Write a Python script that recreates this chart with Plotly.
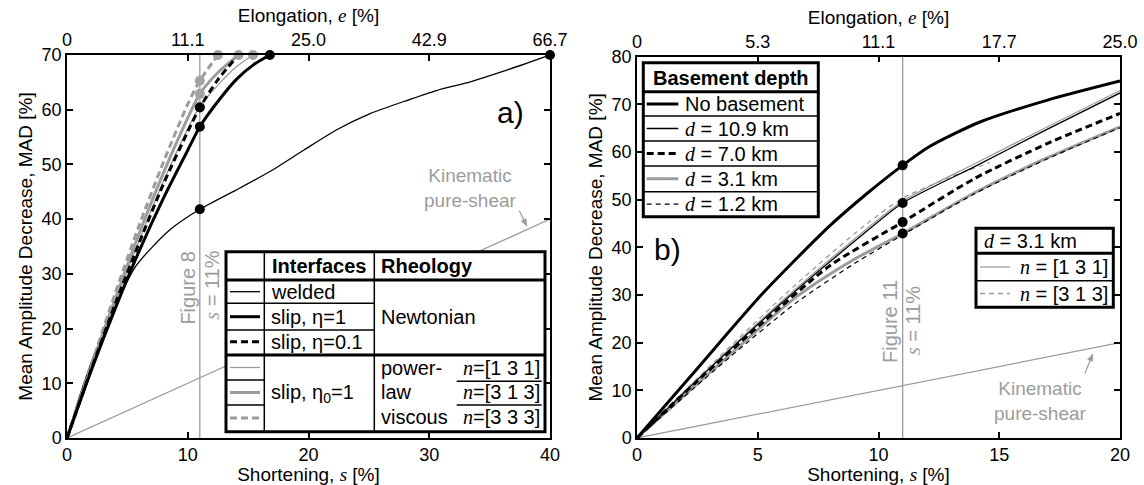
import math
import plotly.graph_objects as go

# ---------------- data: panel a) ----------------
s_kin_a = [0, 40]
mad_kin_a = [0, 40]

s_welded = [0, 1, 2.2, 3.6, 5.7, 8.5, 11, 14, 16.8, 19.6, 22.3, 25.1, 27.9, 30.6, 33.4, 36.1, 40]
mad_welded = [0, 7.3, 14.9, 22.2, 31.4, 38, 41.8, 45.3, 48.7, 52.6, 56.3, 59.3, 61.5, 63.5, 65.1, 67.0, 70]

s_slip1 = [0, 2, 4, 6, 8, 10, 11, 12.67, 14.05, 15.43, 16.8]
mad_slip1 = [0, 12.3, 23.7, 34.3, 43.9, 52.6, 56.9, 62.0, 65.6, 68.2, 70]

s_slip01 = [0, 2, 4, 6, 8, 10, 11, 12.5, 14.2]
mad_slip01 = [0, 12.5, 24.5, 35.8, 46.5, 56, 60.4, 65.5, 70]

s_pl131 = [0, 2, 4, 6, 8, 10, 11, 12.5, 14, 15.4]
mad_pl131 = [0, 12.6, 24.8, 36.2, 47, 56.5, 60.6, 64.5, 67.8, 70]

s_pl313 = [0, 2, 4, 6, 8, 10, 11, 12.5, 14.2]
mad_pl313 = [0, 13, 25.5, 37.5, 48.5, 58.5, 62.9, 66.8, 70]

s_pl333 = [0, 2, 4, 6, 8, 10, 11, 12.5]
mad_pl333 = [0, 13.3, 26.5, 39, 50.5, 61, 65.3, 70]

ticks_a = [0, 10, 20, 30, 40]
elong_a = ["0", "11.1", "25.0", "42.9", "66.7"]

# ---------------- data: panel b) ----------------
s_kin_b = [0, 20]
mad_kin_b = [0, 20]

s_nob = [0, 2.5, 5.2, 8, 9.5, 11, 12.1, 14.2, 17, 20]
mad_nob = [0, 14.6, 30.3, 44.6, 51.2, 57.2, 61.1, 66.3, 70.9, 74.9]

s_d109 = [0, 3.2, 6.6, 9.4, 11, 14, 17, 20]
mad_d109 = [0, 15.5, 31, 42.9, 49.3, 57, 64.8, 72.4]

s_d70 = [0, 2.5, 5.2, 8, 11, 14, 17, 20]
mad_d70 = [0, 12.0, 24.2, 36.2, 45.3, 54.5, 61.8, 68.1]

s_d31 = [0, 3.85, 6.6, 9, 11, 14, 17, 20]
mad_d31 = [0, 17.5, 29.6, 37.5, 42.9, 51.5, 58.8, 65.3]

s_d12 = [0, 3.85, 6.6, 9, 11, 14, 17, 20]
mad_d12 = [0, 17.0, 28.4, 36.6, 42.6, 51.3, 58.6, 65.1]

s_n131 = [0, 3.2, 6.6, 9.4, 11, 14, 17, 20]
mad_n131 = [0, 15.7, 31.4, 43.4, 49.7, 57.6, 65.3, 72.9]

s_n313 = [0, 3.2, 6.6, 9.4, 11, 12.8, 14.6]
mad_n313 = [0, 16, 32.3, 44.5, 50.3, 54.4, 57.8]

ticks_b = [0, 5, 10, 15, 20]
elong_b = ["0", "5.3", "11.1", "17.7", "25.0"]

s_fig = 11  # marked shortening

# ---------------- styling ----------------
FONT = "Liberation Sans, Arial, sans-serif"
SERIF = "Liberation Serif, Times New Roman, serif"
GRAY = "#9c9c9c"
W, H = 1144, 485
ML, MR, MT, MB = 67, 24, 55, 47
TS = 20  # table text size


def it(ch):
    return f"<span style='font-family:{SERIF}'><i>{ch}</i></span>"


def P(x, y):
    return (x - ML) / (W - ML - MR), (H - MB - y) / (H - MT - MB)


fig = go.Figure()


def curve(xs, ys, xa, ya, color, width, dash="solid"):
    fig.add_trace(go.Scatter(x=xs, y=ys, xaxis=xa, yaxis=ya, mode="lines",
                             line=dict(color=color, width=width, dash=dash, shape="spline", smoothing=0.7),
                             hoverinfo="skip", showlegend=False))


def dots(xs, ys, xa, ya, color):
    fig.add_trace(go.Scatter(x=xs, y=ys, xaxis=xa, yaxis=ya, mode="markers",
                             marker=dict(color=color, size=10), cliponaxis=False,
                             hoverinfo="skip", showlegend=False))


def at(sx, my, v):
    return my[sx.index(v)]


DASH = "7px,4px"
TDASH = "5px,4px"

# panel a
curve(s_kin_a, mad_kin_a, "x", "y", GRAY, 1.3)
curve([s_fig, s_fig], [0, 70], "x", "y", GRAY, 1.3)
curve(s_welded, mad_welded, "x", "y", "black", 1.3)
curve(s_pl131, mad_pl131, "x", "y", GRAY, 1.3)
curve(s_pl313, mad_pl313, "x", "y", GRAY, 3)
curve(s_pl333, mad_pl333, "x", "y", GRAY, 3, DASH)
curve(s_slip01, mad_slip01, "x", "y", "black", 3, DASH)
curve(s_slip1, mad_slip1, "x", "y", "black", 3)
gray_a = [(s_pl131, mad_pl131), (s_pl313, mad_pl313), (s_pl333, mad_pl333)]
dots([s_fig for _ in gray_a] + [sx[-1] for sx, _ in gray_a],
     [at(sx, my, s_fig) for sx, my in gray_a] + [my[-1] for _, my in gray_a], "x", "y", "#a3a3a3")
black_a = [(s_welded, mad_welded), (s_slip1, mad_slip1), (s_slip01, mad_slip01)]
dots([s_fig for _ in black_a] + [s_welded[-1], s_slip1[-1]],
     [at(sx, my, s_fig) for sx, my in black_a] + [mad_welded[-1], mad_slip1[-1]], "x", "y", "black")
fig.add_trace(go.Scatter(x=[0], y=[0], xaxis="x3", yaxis="y", mode="markers",
                         marker=dict(opacity=0), hoverinfo="skip", showlegend=False))

# panel b
curve(s_kin_b, mad_kin_b, "x2", "y2", GRAY, 1.3)
curve([s_fig, s_fig], [0, 80], "x2", "y2", GRAY, 1.3)
curve(s_n313, mad_n313, "x2", "y2", GRAY, 1.3, TDASH)
curve(s_n131, mad_n131, "x2", "y2", GRAY, 1.3)
curve(s_d31, mad_d31, "x2", "y2", GRAY, 3)
curve(s_d12, mad_d12, "x2", "y2", "black", 1.2, TDASH)
curve(s_d109, mad_d109, "x2", "y2", "black", 1.3)
curve(s_d70, mad_d70, "x2", "y2", "black", 3, DASH)
curve(s_nob, mad_nob, "x2", "y2", "black", 3)
black_b = [(s_nob, mad_nob), (s_d109, mad_d109), (s_d70, mad_d70), (s_d31, mad_d31)]
dots([s_fig for _ in black_b], [at(sx, my, s_fig) for sx, my in black_b], "x2", "y2", "black")
fig.add_trace(go.Scatter(x=[0], y=[0], xaxis="x4", yaxis="y2", mode="markers",
                         marker=dict(opacity=0), hoverinfo="skip", showlegend=False))

# ---------------- axes ----------------
ax = dict(showline=True, linecolor="black", linewidth=1.5, ticks="inside", ticklen=6, tickwidth=1.5,
          tickcolor="black", showgrid=False, zeroline=False, automargin=False,
          tickfont=dict(size=18, family=FONT, color="black"))
tfont = dict(size=19, family=FONT, color="black")
xa_dom = [0, P(550, 0)[0]]
xb_dom = [P(637, 0)[0], 1]

fig.update_layout(
    width=W, height=H, margin=dict(l=ML, r=MR, t=MT, b=MB),
    plot_bgcolor="white", paper_bgcolor="white", showlegend=False,
    font=dict(family=FONT, size=18, color="black"),
    xaxis=dict(ax, domain=xa_dom, range=[0, 40], tickvals=ticks_a, mirror=True, anchor="y",
               title=dict(text=f"Shortening, {it('s')} [%]", font=tfont, standoff=2)),
    xaxis3=dict(ax, range=[0, 40], tickvals=ticks_a, ticktext=elong_a, overlaying="x", side="top", anchor="y",
                title=dict(text=f"Elongation, {it('e')} [%]", font=tfont, standoff=2)),
    yaxis=dict(ax, domain=[0, 1], range=[0, 70], tickvals=list(range(0, 71, 10)), mirror="ticks", anchor="x",
               title=dict(text="Mean Amplitude Decrease, MAD [%]", font=tfont, standoff=4)),
    xaxis2=dict(ax, domain=xb_dom, range=[0, 20], tickvals=ticks_b, mirror=True, anchor="y2",
                title=dict(text=f"Shortening, {it('s')} [%]", font=tfont, standoff=2)),
    xaxis4=dict(ax, range=[0, 20], tickvals=ticks_b, ticktext=elong_b, overlaying="x2", side="top", anchor="y2",
                title=dict(text=f"Elongation, {it('e')} [%]", font=tfont, standoff=2)),
    yaxis2=dict(ax, domain=[0, P(0, 56.7)[1]], range=[0, 80], tickvals=list(range(0, 81, 10)), mirror="ticks",
                anchor="x2", title=dict(text="Mean Amplitude Decrease, MAD [%]", font=tfont, standoff=4)),
)

# ---------------- tables / annotations ----------------
shapes = []
anns = []


def rect(x0, y0, x1, y1, w=3):
    a, b = P(x0, y1)
    c, d = P(x1, y0)
    shapes.append(dict(type="rect", xref="paper", yref="paper", x0=a, y0=b, x1=c, y1=d,
                       fillcolor="white", line=dict(color="black", width=w), layer="above"))


def seg(x0, y0, x1, y1, w=1.5, color="black", dash="solid"):
    a, b = P(x0, y0)
    c, d = P(x1, y1)
    shapes.append(dict(type="line", xref="paper", yref="paper", x0=a, y0=b, x1=c, y1=d,
                       line=dict(color=color, width=w, dash=dash), layer="above"))


def txt(x, y, s, size=TS, color="black", xanchor="center", angle=0):
    a, b = P(x, y)
    anns.append(dict(x=a, y=b, xref="paper", yref="paper", text=s, showarrow=False, xanchor=xanchor,
                     yanchor="middle", textangle=angle, font=dict(size=size, color=color, family=FONT)))


def arrow(xt, yt, xs, ys, hl=7, hw=2.8):
    seg(xs, ys, xt, yt, 1.2, GRAY)
    dx, dy = xt - xs, yt - ys
    n = math.hypot(dx, dy)
    ux, uy = dx / n, dy / n
    bx, by = xt - hl * ux, yt - hl * uy
    px, py = -uy * hw, ux * hw
    pts = [P(xt, yt), P(bx + px, by + py), P(bx - px, by - py)]
    path = "M {} {} L {} {} L {} {} Z".format(*[c for p in pts for c in p])
    shapes.append(dict(type="path", xref="paper", yref="paper", path=path, fillcolor=GRAY,
                       line=dict(color=GRAY, width=0.5), layer="above"))


# left table
rect(226, 251.7, 545, 431.7, 3)
seg(264.3, 251.7, 264.3, 431.7)
seg(374.3, 251.7, 374.3, 431.7)
seg(226, 280, 545, 280, 3)
seg(226, 303.3, 374.3, 303.3)
seg(226, 330, 374.3, 330)
seg(226, 355, 545, 355, 3)
seg(226, 380, 264.3, 380)
seg(226, 405, 264.3, 405)
seg(456.7, 381.2, 541.7, 381.2)
seg(456.7, 405, 541.7, 405)
seg(230, 291.7, 260, 291.7, 1.3, "black")
seg(230, 316.7, 260, 316.7, 3, "black")
seg(230, 341.7, 260, 341.7, 3, "black", DASH)
seg(230, 367.5, 260, 367.5, 1.3, GRAY)
seg(230, 392.5, 260, 392.5, 3, GRAY)
seg(230, 418, 260, 418, 3, GRAY, DASH)
txt(319.3, 266, "<b>Interfaces</b>")
txt(379, 266, "<b>Rheology</b>", xanchor="left")
txt(269, 291.7, "welded", xanchor="left")
txt(269, 316.7, "slip, η=1", xanchor="left")
txt(269, 341.7, "slip, η=0.1", xanchor="left")
txt(379, 317.3, "Newtonian", xanchor="left")
txt(269, 393, "slip, η<sub>0</sub>=1", xanchor="left")
txt(379, 368, "power-", xanchor="left")
txt(379, 392, "law", xanchor="left")
txt(379, 417, "viscous", xanchor="left")
txt(542, 368, f"{it('n')}=[1 3 1]", xanchor="right")
txt(542, 392, f"{it('n')}=[3 1 3]", xanchor="right")
txt(542, 417, f"{it('n')}=[3 3 3]", xanchor="right")

# right table 1
rect(643.3, 62.7, 818.3, 216.7, 3)
seg(643.3, 91.7, 818.3, 91.7, 3)
for yy in (116, 141, 166, 191.7):
    seg(643.3, yy, 818.3, yy)
txt(731, 77.5, "<b>Basement depth</b>")
rows_b = [(103.9, "No basement", "black", 3, "solid"),
          (128.5, f"{it('d')} = 10.9 km", "black", 1.3, "solid"),
          (153.5, f"{it('d')} = 7.0 km", "black", 3, DASH),
          (178.8, f"{it('d')} = 3.1 km", GRAY, 3, "solid"),
          (204.2, f"{it('d')} = 1.2 km", "black", 1.2, TDASH)]
for yy, label, col, w, ds in rows_b:
    seg(646.7, yy, 678.3, yy, w, col, ds)
    txt(683, yy, label, xanchor="left")

# right table 2
rect(976, 228.3, 1113.3, 307.3, 3)
seg(976, 253.3, 1113.3, 253.3, 3)
seg(976, 280.7, 1113.3, 280.7)
txt(982, 241, f"{it('d')} = 3.1 km", xanchor="left")
seg(980, 267, 1010, 267, 1.3, GRAY)
seg(980, 293.5, 1010, 293.5, 1.3, GRAY, TDASH)
txt(1110, 267, f"{it('n')} = [1 3 1]", xanchor="right")
txt(1110, 293.5, f"{it('n')} = [3 1 3]", xanchor="right")

# panel labels, annotations
txt(510, 112.5, "a)", size=30)
txt(667.5, 249.5, "b)", size=30)
txt(188.3, 288.3, "Figure 8", size=20, color=GRAY, angle=-90)
txt(211.7, 285, f"{it('s')} = 11%", size=20, color=GRAY, angle=-90)
txt(890, 322, "Figure 11", size=20, color=GRAY, angle=-90)
txt(913, 321, f"{it('s')} = 11%", size=20, color=GRAY, angle=-90)
txt(470, 188, "Kinematic<br>pure-shear", size=19, color=GRAY)
txt(1040, 400.8, "Kinematic<br>pure-shear", size=19, color=GRAY)
arrow(526.7, 226, 519.3, 210.7)
arrow(1092.7, 354, 1085, 373.3)

fig.update_layout(shapes=shapes, annotations=anns)
fig.write_html("out.html", config={"displayModeBar": False},
               post_script="document.body.style.margin='0px';")
